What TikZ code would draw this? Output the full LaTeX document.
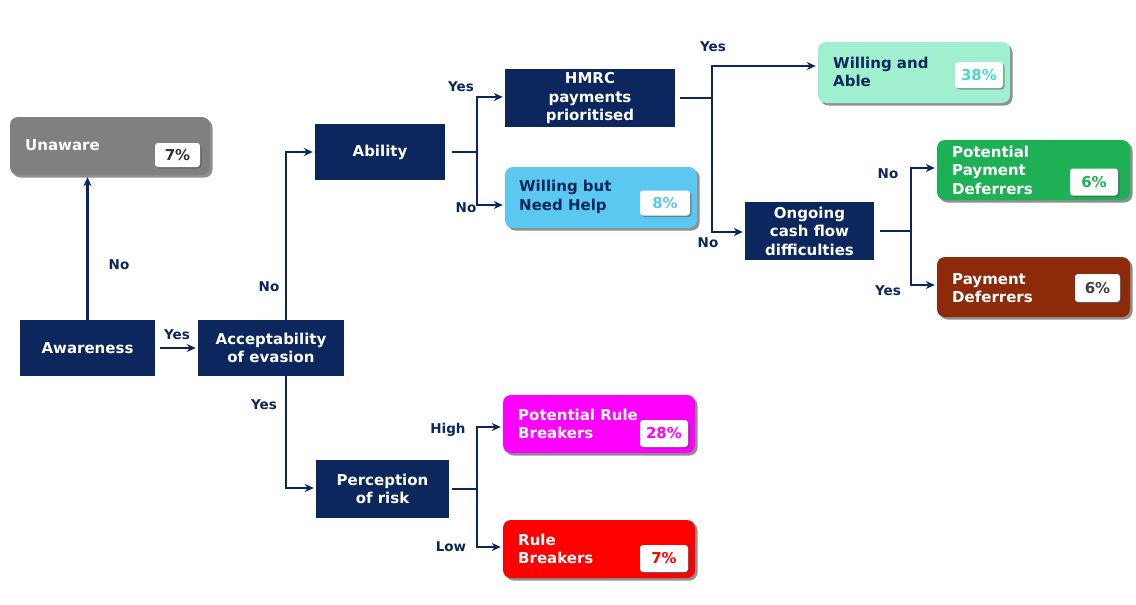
\documentclass[tikz,border=0pt]{standalone}
\usepackage{fontspec}
\setmainfont{DejaVu Sans}
\usetikzlibrary{arrows.meta,shadows}
\definecolor{navy}{RGB}{12,38,94}
\definecolor{greybox}{RGB}{128,128,128}
\definecolor{skyblue}{RGB}{90,200,240}
\definecolor{mint}{RGB}{160,240,208}
\definecolor{mintdark}{RGB}{80,215,200}
\definecolor{leaf}{RGB}{30,176,84}
\definecolor{rust}{RGB}{140,42,10}
\definecolor{pink}{RGB}{255,0,255}
\definecolor{scarlet}{RGB}{255,0,0}
\tikzset{
  txt/.style={font=\bfseries\fontsize{15}{18.5}\selectfont},
  stage/.style={txt, draw=none, fill=navy, text=white, align=center,
    inner sep=0pt},
  outcome/.style={draw=none, rounded corners=8pt, inner sep=0pt,
    drop shadow={shadow xshift=2.5pt, shadow yshift=-2.5pt, opacity=0.55, fill=black!80}},
  outtext/.style={txt, anchor=west, align=left, inner sep=0pt},
  pct/.style={txt, fill=white, rounded corners=3pt, inner sep=0pt,
    drop shadow={shadow xshift=1.5pt, shadow yshift=-1.5pt, opacity=0.5, fill=black!70}},
  arr/.style={draw=navy, line width=2.4pt, -{Stealth[length=9pt,width=8pt]}, shorten >=2pt},
  ln/.style={draw=navy, line width=2.4pt},
  lbl/.style={txt, text=navy, font=\bfseries\fontsize{13.5}{16}\selectfont},
}
\begin{document}
\begin{tikzpicture}[x=1pt,y=-1pt]
\useasboundingbox (0,0) rectangle (1136,605);
\fill[white] (0,0) rectangle (1136,605);

% decision stages
\node[stage, minimum width=135pt, minimum height=56pt] (aware) at (87.5,348) {Awareness};
\node[stage, minimum width=146pt, minimum height=56pt] (accept) at (271,348) {Acceptability\\of evasion};
\node[stage, minimum width=130pt, minimum height=56pt] (ability) at (380,152) {Ability};
\node[stage, minimum width=170pt, minimum height=58pt] (hmrc) at (590,98) {HMRC\\payments\\prioritised};
\node[stage, minimum width=129pt, minimum height=58pt] (ongoing) at (809.5,231) {Ongoing\\cash flow\\difficulties};
\node[stage, minimum width=133pt, minimum height=58pt] (percep) at (382.5,489) {Perception\\of risk};

% outcome segments
\node[outcome, fill=greybox, minimum width=200pt, minimum height=58pt] (unaware) at (110,146) {};
\node[outtext, text=white] (unawaret) at (25,145) {Unaware};
\node[pct, text=black!80, minimum width=45pt, minimum height=24pt] (unawarep) at (177.5,155) {7\%};

\node[outcome, fill=skyblue, minimum width=192pt, minimum height=61pt] (wbnh) at (601,197.5) {};
\node[outtext, text=navy] (wbnht) at (519,197) {Willing but\\Need Help};
\node[pct, text=skyblue, minimum width=50pt, minimum height=25pt] (wbnhp) at (665,203) {8\%};

\node[outcome, fill=mint, minimum width=192pt, minimum height=61pt] (waa) at (914,72.5) {};
\node[outtext, text=navy] (waat) at (833,72) {Willing and\\Able};
\node[pct, text=mintdark, minimum width=48pt, minimum height=26pt] (waap) at (979,75) {38\%};

\node[outcome, fill=leaf, minimum width=193pt, minimum height=60pt] (ppd) at (1033.5,170) {};
\node[outtext, text=white] (ppdt) at (952,170) {Potential\\Payment\\Deferrers};
\node[pct, text=leaf, minimum width=48pt, minimum height=27pt] (ppdp) at (1094,182) {6\%};

\node[outcome, fill=rust, minimum width=193pt, minimum height=60pt] (pd) at (1033.5,287) {};
\node[outtext, text=white] (pdt) at (952,288) {Payment\\Deferrers};
\node[pct, text=black!75, minimum width=45pt, minimum height=28pt] (pdp) at (1097.5,288) {6\%};

\node[outcome, fill=pink, minimum width=192pt, minimum height=58pt] (prb) at (599,424) {};
\node[outtext, text=white] (prbt) at (518,424) {Potential Rule\\Breakers};
\node[pct, text=pink, minimum width=48pt, minimum height=27pt] (prbp) at (664,433.5) {28\%};

\node[outcome, fill=scarlet, minimum width=192pt, minimum height=58pt] (rb) at (599,549) {};
\node[outtext, text=white] (rbt) at (518,549) {Rule\\Breakers};
\node[pct, text=scarlet, minimum width=48pt, minimum height=27pt] (rbp) at (664,558.5) {7\%};

% branch points
\coordinate (bAcc) at ([xshift=15pt]accept.north);
\coordinate (bAccS) at ([xshift=15pt]accept.south);
\coordinate (bAbi) at ([xshift=32pt]ability.east);
\coordinate (bHm) at ([xshift=37pt]hmrc.east);
\coordinate (bOn) at ([xshift=37pt]ongoing.east);
\coordinate (bPer) at ([xshift=28pt]percep.east);

% connectors
\draw[arr] (aware.north) -- (aware.north |- unaware.south);
\draw[arr] ([xshift=5pt]aware.east) -- (accept.west);
\draw[arr] (bAcc) |- (ability.west);
\draw[arr] (bAccS) |- ([yshift=1pt]percep.west);

\draw[ln] ([xshift=7pt]ability.east) -- (bAbi);
\draw[arr] (bAbi) |- ([yshift=1pt]hmrc.west);
\draw[arr] (bAbi) |- ([yshift=-7.5pt]wbnh.west);

\draw[ln] ([xshift=5pt]hmrc.east) -- (bHm);
\draw[arr] (bHm) |- ([yshift=6.5pt]waa.west);
\draw[arr] (bHm) |- ([yshift=-1pt]ongoing.west);

\draw[ln] ([xshift=6pt]ongoing.east) -- (bOn);
\draw[arr] (bOn) |- ([yshift=2pt]ppd.west);
\draw[arr] (bOn) |- ([yshift=2pt]pd.west);

\draw[ln] ([xshift=3pt]percep.east) -- (bPer);
\draw[arr] (bPer) |- ([yshift=-3pt]prb.west);
\draw[arr] (bPer) |- ([yshift=2pt]rb.west);

% branch labels
\node[lbl] (lNo1) at (119,265) {No};
\node[lbl] (lYes1) at (177,335) {Yes};
\node[lbl] (lNo2) at (269,287) {No};
\node[lbl] (lYes2) at (264,405) {Yes};
\node[lbl] (lYes3) at (461,87) {Yes};
\node[lbl] (lNo3) at (466,208) {No};
\node[lbl] (lYes4) at (713,47) {Yes};
\node[lbl] (lNo4) at (708,243) {No};
\node[lbl] (lNo5) at (888,174) {No};
\node[lbl] (lYes5) at (888,291) {Yes};
\node[lbl] (lHigh) at (448,430) {High};
\node[lbl] (lLow) at (451,547) {Low};
\end{tikzpicture}
\end{document}
